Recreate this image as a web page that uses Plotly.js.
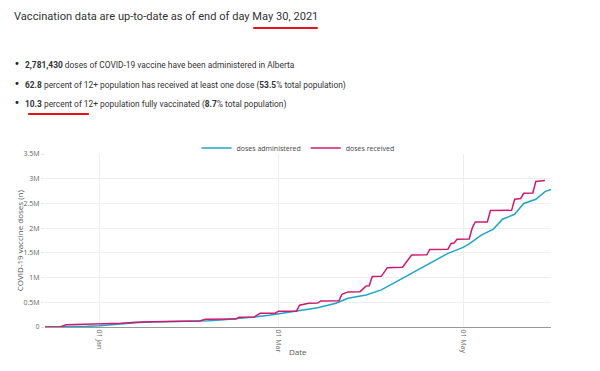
<!DOCTYPE html>
<html>
<head>
<meta charset="utf-8">
<script src="https://cdn.plot.ly/plotly-3.0.1.min.js"></script>
<style>
  html, body { margin:0; padding:0; background:#fff; width:600px; height:371px; overflow:hidden; }
  .t { position:absolute; white-space:nowrap; color:#333; font-family:Roboto, "Noto Sans", sans-serif; }
  .b { position:absolute; color:#222; font-family:"DejaVu Sans", sans-serif; font-size:10px; line-height:10px; }
  .ul { position:absolute; background:#e3121b; height:2.5px; border-radius:1px; }
  #chart { position:absolute; left:0; top:115px; width:600px; height:256px; }
</style>
</head>
<body>
<div class="t" style="left:14px;top:10px;font-size:11.1px;">Vaccination data are up-to-date as of end of day May 30, 2021</div>
<div class="ul" style="left:253px;top:26.5px;width:65px;"></div>

<div class="b" style="left:14px;top:59px;">•</div>
<div class="t" style="left:25px;top:60px;font-size:8.4px;"><b>2,781,430</b> doses of COVID-19 vaccine have been administered in Alberta</div>
<div class="b" style="left:14px;top:79px;">•</div>
<div class="t" style="left:25px;top:80px;font-size:8.4px;"><b>62.8</b> percent of 12+ population has received at least one dose (<b>53.5</b>% total population)</div>
<div class="b" style="left:14px;top:98px;">•</div>
<div class="t" style="left:25px;top:99px;font-size:8.4px;"><b>10.3</b> percent of 12+ population fully vaccinated (<b>8.7</b>% total population)</div>
<div class="ul" style="left:28px;top:113px;width:61px;"></div>

<div id="chart"></div>
<script>
// ---- data ----
const administeredDates = ['2020-12-14','2020-12-20','2020-12-24','2020-12-28','2021-01-01','2021-01-05','2021-01-10','2021-01-14','2021-01-18','2021-01-25','2021-02-01','2021-02-06','2021-02-11','2021-02-16','2021-02-21','2021-02-26','2021-03-03','2021-03-08','2021-03-14','2021-03-20','2021-03-24','2021-03-30','2021-04-04','2021-04-09','2021-04-13','2021-04-17','2021-04-22','2021-04-26','2021-05-01','2021-05-03','2021-05-07','2021-05-11','2021-05-14','2021-05-18','2021-05-21','2021-05-25','2021-05-28','2021-05-30'];
const administeredDoses = [0,2000,6000,13000,26000,50000,78000,92000,103000,110000,115000,128000,145000,168000,200000,237000,280000,330000,390000,480000,580000,648000,750000,917000,1050000,1190000,1356000,1490000,1610000,1680000,1860000,1980000,2180000,2280000,2500000,2585000,2740000,2781430];

const receivedDates = ['2020-12-14','2020-12-19','2020-12-21','2021-01-01','2021-01-08','2021-01-13','2021-01-18','2021-02-03','2021-02-05','2021-02-15','2021-02-16','2021-02-21','2021-02-23','2021-02-28','2021-03-01','2021-03-07','2021-03-08','2021-03-11','2021-03-14','2021-03-15','2021-03-21','2021-03-22','2021-03-24','2021-03-28','2021-03-30','2021-03-31','2021-04-01','2021-04-04','2021-04-06','2021-04-11','2021-04-14','2021-04-19','2021-04-20','2021-04-26','2021-04-27','2021-04-28','2021-04-29','2021-05-03','2021-05-04','2021-05-05','2021-05-09','2021-05-10','2021-05-17','2021-05-18','2021-05-20','2021-05-21','2021-05-24','2021-05-25','2021-05-28'];
const receivedDoses = [0,0,45000,55000,75000,95000,107000,120000,156000,160000,196000,200000,277000,280000,318000,320000,440000,480000,485000,526000,530000,660000,710000,715000,830000,835000,1020000,1025000,1200000,1208000,1457000,1460000,1570000,1575000,1690000,1700000,1775000,1780000,2000000,2125000,2125000,2355000,2360000,2585000,2600000,2706000,2710000,2945000,2965000];

const yTickVals = [0,500000,1000000,1500000,2000000,2500000,3000000,3500000];
const yTickText = ['0','0.5M','1M','1.5M','2M','2.5M','3M','3.5M'];

const seriesNames = ['doses administered','doses received'];
const seriesColors = ['#1fa4c8','#cc1b70'];

const traces = [
  {x: administeredDates, y: administeredDoses, name: seriesNames[0], type:'scatter', mode:'lines',
   line:{color:seriesColors[0], width:1.5}},
  {x: receivedDates, y: receivedDoses, name: seriesNames[1], type:'scatter', mode:'lines',
   line:{color:seriesColors[1], width:1.5}}
];

const layout = {
  width:600, height:256,
  margin:{l:45, r:49, t:39, b:44},
  paper_bgcolor:'#fff', plot_bgcolor:'#fff',
  font:{family:'"Open Sans", sans-serif', size:7, color:'#555'},
  showlegend:true,
  legend:{orientation:'h', x:0.5, xanchor:'center', y:1.035, yanchor:'middle', font:{size:7, color:'#444'}, bgcolor:'rgba(0,0,0,0)'},
  xaxis:{
    type:'date', range:['2020-12-14','2021-05-30'],
    tick0:'2021-01-01', dtick:'M2', tickformat:'%d %b', tickangle:90,
    showgrid:true, gridcolor:'#eeeeee', gridwidth:1,
    showline:true, linecolor:'#999', linewidth:1,
    zeroline:false, ticks:'', tickfont:{size:7, color:'#666'}, automargin:false
  },
  yaxis:{
    range:[0,3500000], tickvals:yTickVals, ticktext:yTickText,
    showgrid:true, gridcolor:'#eeeeee', gridwidth:1,
    zeroline:false, showline:false, ticks:'outside', ticklen:3, tickcolor:'#e6e6e6',
    tickfont:{size:7, color:'#666'}, automargin:false
  },
  annotations:[
    {text:'Date', xref:'paper', yref:'paper', x:0.5, y:-0.139, xanchor:'center', yanchor:'middle', showarrow:false, font:{size:8, color:'#555'}},
    {text:'COVID-19 vaccine doses (n)', xref:'paper', yref:'paper', x:-0.05, y:0.5, xanchor:'center', yanchor:'middle', textangle:-90, showarrow:false, font:{size:8, color:'#555'}}
  ]
};

Plotly.newPlot('chart', traces, layout, {displayModeBar:false, staticPlot:true});
</script>
</body>
</html>
